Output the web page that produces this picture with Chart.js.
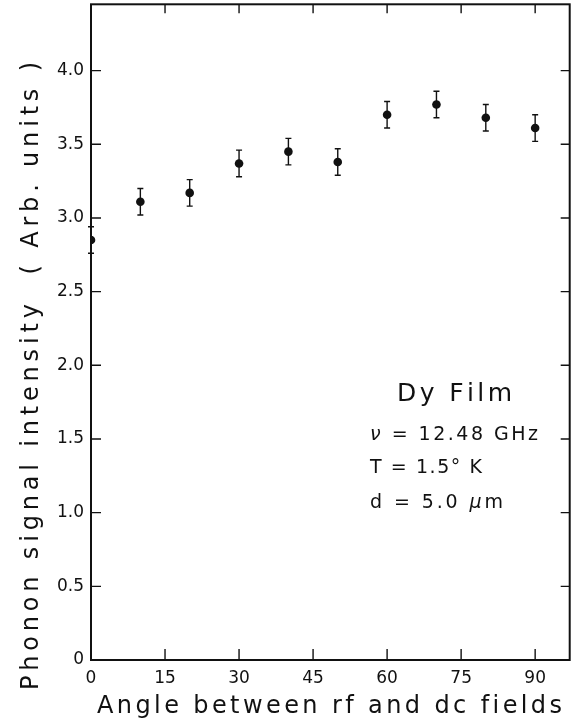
<!DOCTYPE html>
<html>
<head>
<meta charset="utf-8">
<script src="https://cdn.jsdelivr.net/npm/chart.js@4.4.1/dist/chart.umd.min.js"></script>
<style>
  html, body { margin: 0; padding: 0; background: #fff; }
  #wrap { width: 574px; height: 719px; }
</style>
</head>
<body>
<div id="wrap"><canvas id="c" width="574" height="719"></canvas></div>
<script>
// ── DATA ───────────────────────────────────────────────────────
const angles     = [0, 10, 20, 30, 40, 50, 60, 70, 80, 90];
const intensity  = [2.85, 3.11, 3.17, 3.37, 3.45, 3.38, 3.70, 3.77, 3.68, 3.61];
const errors     = [0.09, 0.09, 0.09, 0.09, 0.09, 0.09, 0.09, 0.09, 0.09, 0.09];
const xTicks     = [0, 15, 30, 45, 60, 75, 90];
const yTicks     = [0, 0.5, 1.0, 1.5, 2.0, 2.5, 3.0, 3.5, 4.0];
const yTickLabels = ['0', '0.5', '1.0', '1.5', '2.0', '2.5', '3.0', '3.5', '4.0'];

const INK  = '#111';
const FONT = '"DejaVu Sans", sans-serif';

// draw text char by char so spacing can be stretched to a width
// italic: set of characters drawn in italic
function drawSpaced(ctx, text, x, y, size, width, italic) {
  const chars = [...text];
  const fontFor = ch => (italic && italic.includes(ch) ? 'italic ' : '') + size + 'px ' + FONT;
  const ws = chars.map(ch => { ctx.font = fontFor(ch); return ctx.measureText(ch).width; });
  const total = ws.reduce((a, b) => a + b, 0);
  const gap = chars.length > 1 ? (width - total) / (chars.length - 1) : 0;
  let cx = x;
  chars.forEach((ch, i) => {
    ctx.font = fontFor(ch);
    ctx.fillText(ch, cx, y);
    cx += ws[i] + gap;
  });
}

// no extra room for half tick labels, the box is placed by hand
function noPad(s) {
  s.paddingTop = 0; s.paddingBottom = 0;
  s.paddingLeft = 0; s.paddingRight = 0;
}

// ── FRAME, INWARD TICKS, ERROR BARS, TEXT ──────────────────────
const framePlugin = {
  id: 'frame',
  beforeDatasetsDraw(chart) {
    const { ctx, scales: { x, y } } = chart;
    ctx.save();
    ctx.strokeStyle = INK;
    ctx.lineWidth = 1.4;
    angles.forEach((a, i) => {
      const px = x.getPixelForValue(a);
      const top = y.getPixelForValue(intensity[i] + errors[i]);
      const bot = y.getPixelForValue(intensity[i] - errors[i]);
      ctx.beginPath();
      ctx.moveTo(px, top); ctx.lineTo(px, bot);
      ctx.moveTo(px - 3, top); ctx.lineTo(px + 3, top);
      ctx.moveTo(px - 3, bot); ctx.lineTo(px + 3, bot);
      ctx.stroke();
    });
    ctx.restore();
  },
  afterDraw(chart) {
    const { ctx, chartArea: ca, scales: { x, y } } = chart;
    ctx.save();
    ctx.strokeStyle = INK;
    ctx.fillStyle = INK;

    // box
    ctx.lineWidth = 2;
    ctx.strokeRect(ca.left, ca.top, ca.right - ca.left, ca.bottom - ca.top);

    // inward ticks
    ctx.lineWidth = 1.4;
    ctx.beginPath();
    xTicks.slice(1).forEach(v => {
      const px = x.getPixelForValue(v);
      ctx.moveTo(px, ca.bottom); ctx.lineTo(px, ca.bottom - 11);
      ctx.moveTo(px, ca.top);    ctx.lineTo(px, ca.top + 9);
    });
    yTicks.slice(1).forEach(v => {
      const py = y.getPixelForValue(v);
      ctx.moveTo(ca.left, py);  ctx.lineTo(ca.left + 10, py);
      ctx.moveTo(ca.right, py); ctx.lineTo(ca.right - 9, py);
    });
    ctx.stroke();

    // axis titles
    ctx.textAlign = 'left';
    ctx.textBaseline = 'alphabetic';
    drawSpaced(ctx, 'Angle between rf and dc fields', 97, 713, 24, 465);

    ctx.save();
    ctx.translate(38, 690);
    ctx.rotate(-Math.PI / 2);
    drawSpaced(ctx, 'Phonon signal intensity  ( Arb. units )', 0, 0, 24, 628);
    ctx.restore();

    // annotation
    drawSpaced(ctx, 'Dy Film', 397, 401, 25, 115);
    drawSpaced(ctx, 'ν = 12.48 GHz', 370, 440, 19, 168, 'ν');
    drawSpaced(ctx, 'T = 1.5° K', 370, 473, 19, 112);
    drawSpaced(ctx, 'd = 5.0 μm', 370, 508, 19, 133, 'μ');

    ctx.restore();
  },
};

// ── CHART ──────────────────────────────────────────────────────
const ctx = document.getElementById('c').getContext('2d');
new Chart(ctx, {
  type: 'scatter',
  data: {
    datasets: [{
      data: angles.map((a, i) => ({ x: a, y: intensity[i] })),
      backgroundColor: INK,
      borderColor: INK,
      pointRadius: 4.3,
      pointHoverRadius: 4.3,
      borderWidth: 0,
    }],
  },
  options: {
    responsive: false,
    animation: false,
    devicePixelRatio: 1,
    layout: { padding: { top: 3, right: 2, left: 0, bottom: 0 } },
    plugins: { legend: { display: false }, tooltip: { enabled: false } },
    events: [],
    scales: {
      x: {
        type: 'linear',
        min: 0, max: 97,
        afterBuildTicks: s => { s.ticks = xTicks.map(v => ({ value: v })); },
        afterFit: s => { s.height = 59; noPad(s); },
        grid: { display: false, drawTicks: false },
        border: { display: false },
        ticks: {
          color: INK,
          padding: 8,
          maxRotation: 0,
          autoSkip: false,
          font: { size: 17, family: FONT },
          callback: v => String(v),
        },
      },
      y: {
        type: 'linear',
        min: 0, max: 4.45,
        afterBuildTicks: s => { s.ticks = yTicks.map(v => ({ value: v })); },
        afterFit: s => { s.width = 91; noPad(s); },
        grid: { display: false, drawTicks: false },
        border: { display: false },
        ticks: {
          color: INK,
          padding: 7,
          autoSkip: false,
          font: { size: 17, family: FONT },
          callback: (v, i) => yTickLabels[i],
        },
      },
    },
  },
  plugins: [framePlugin],
});
</script>
</body>
</html>
